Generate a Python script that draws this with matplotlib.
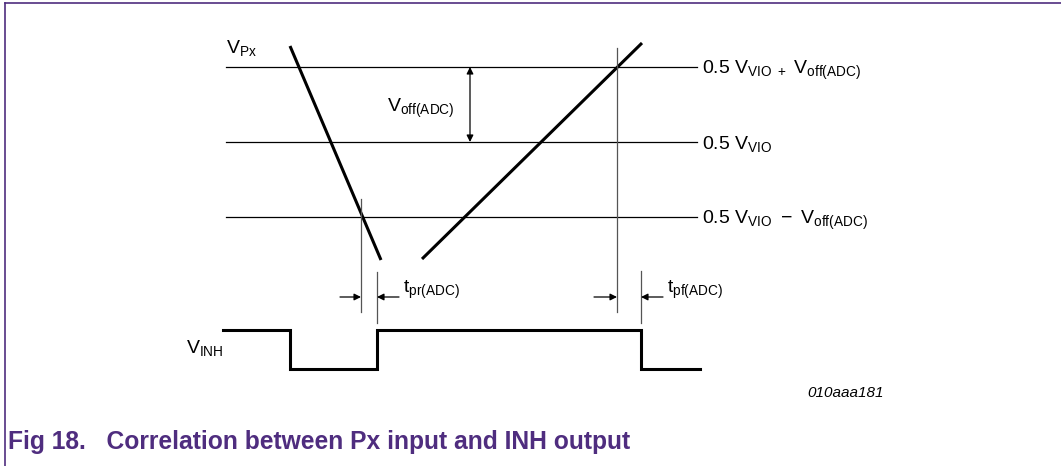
import matplotlib.pyplot as plt
import matplotlib as mpl

mpl.rcParams['font.family'] = ['Liberation Sans', 'DejaVu Sans']
mpl.rcParams['mathtext.fontset'] = 'custom'
mpl.rcParams['mathtext.rm'] = 'Liberation Sans'
mpl.rcParams['mathtext.it'] = 'Liberation Sans:italic'
mpl.rcParams['mathtext.bf'] = 'Liberation Sans:bold'

# diagram coordinates (pixel-like units, y grows downward)
level_names = [r'$\mathregular{0.5\ V_{VIO\ +}\ V_{off(ADC)}}$',
               r'$\mathregular{0.5\ V_{VIO}}$',
               r'$\mathregular{0.5\ V_{VIO}\ -\ V_{off(ADC)}}$']
level_y = [67, 142, 217]
level_x = [226, 697]

px_fall_x = [290, 381]
px_fall_y = [46, 260]
px_rise_x = [422, 642]
px_rise_y = [259, 43]

inh_x = [223, 290, 290, 377, 377, 641, 641, 700]
inh_y = [330, 330, 369, 369, 330, 330, 369, 369]

marker_x = [361, 377, 617, 641]
marker_top = [199, 272, 48, 271]
marker_bot = [312, 323, 312, 323]

delay_y = 297
delay_arrows = [(340, 361), (399, 377), (594, 617), (663, 641)]
delay_labels = [r'$\mathregular{t_{pr(ADC)}}$', r'$\mathregular{t_{pf(ADC)}}$']
delay_label_x = [403, 667]

voff_x = 470
purple = '#4F2D7F'

fig = plt.figure(figsize=(10.61, 4.66), dpi=100)
ax = fig.add_axes([0, 0, 1, 1])
ax.set_xlim(0, 1061)
ax.set_ylim(466, 0)
ax.axis('off')

# page frame
ax.plot([5, 1061], [3, 3], color=purple, lw=1.2)
ax.plot([5, 5], [3, 466], color=purple, lw=1.2)

# threshold levels
for y, name in zip(level_y, level_names):
    ax.plot(level_x, [y, y], color='black', lw=0.9)
    ax.text(702, y + 7.5, name, fontsize=14, va='baseline', ha='left')

# input ramps
ax.plot(px_fall_x, px_fall_y, color='black', lw=2.2, solid_capstyle='butt')
ax.plot(px_rise_x, px_rise_y, color='black', lw=2.2, solid_capstyle='butt')

# timing markers
for x, t, b in zip(marker_x, marker_top, marker_bot):
    ax.plot([x, x], [t, b], color='#555555', lw=0.9)

for x0, x1 in delay_arrows:
    ax.annotate('', xy=(x1, delay_y), xytext=(x0, delay_y),
                arrowprops=dict(arrowstyle='-|>', color='black', lw=0.9,
                                mutation_scale=10, shrinkA=0, shrinkB=0))
for x, lab in zip(delay_label_x, delay_labels):
    ax.text(x, 293, lab, fontsize=14, va='baseline', ha='left')

# offset arrow
ax.annotate('', xy=(voff_x, level_y[0]), xytext=(voff_x, level_y[1]),
            arrowprops=dict(arrowstyle='<|-|>', color='black', lw=0.9,
                            mutation_scale=10, shrinkA=0, shrinkB=0))
ax.text(387, 112, r'$\mathregular{V_{off(ADC)}}$', fontsize=14, va='baseline', ha='left')

# output
ax.plot(inh_x, inh_y, color='black', lw=2.2, solid_joinstyle='miter')

ax.text(226, 53, r'$\mathregular{V_{Px}}$', fontsize=14, va='baseline', ha='left')
ax.text(186, 353, r'$\mathregular{V_{INH}}$', fontsize=14, va='baseline', ha='left')
ax.text(884, 397, '010aaa181', fontsize=11, style='italic', va='baseline', ha='right')

ax.text(8, 449, 'Fig 18.   Correlation between Px input and INH output',
        fontsize=17.7, fontweight='bold', color=purple, va='baseline', ha='left')

fig.savefig('out.png', dpi=100)
